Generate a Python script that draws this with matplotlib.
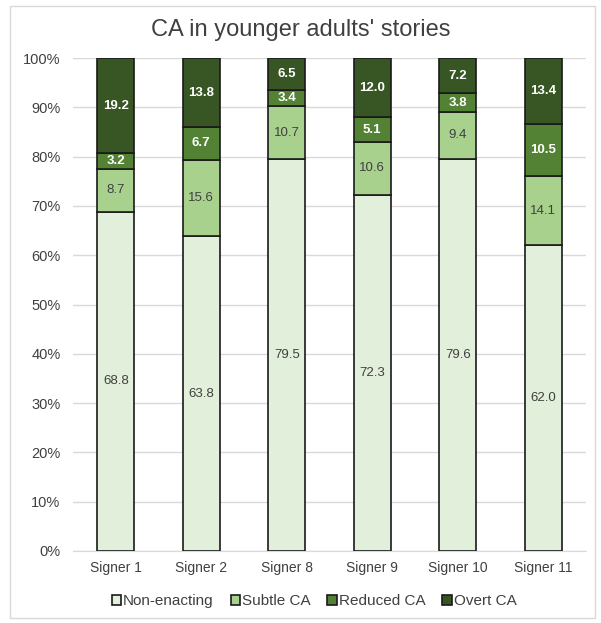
import matplotlib
matplotlib.use("Agg")
import matplotlib.pyplot as plt
from matplotlib.patches import Rectangle
import numpy as np

categories = ["Signer 1", "Signer 2", "Signer 8", "Signer 9", "Signer 10", "Signer 11"]
non_enacting = [68.8, 63.8, 79.5, 72.3, 79.6, 62.0]
subtle_ca = [8.7, 15.6, 10.7, 10.6, 9.4, 14.1]
reduced_ca = [3.2, 6.7, 3.4, 5.1, 3.8, 10.5]
overt_ca = [19.2, 13.8, 6.5, 12.0, 7.2, 13.4]

series = [
    ("Non-enacting", non_enacting, "#e2efda", "#404040"),
    ("Subtle CA", subtle_ca, "#a9d18e", "#404040"),
    ("Reduced CA", reduced_ca, "#548235", "white"),
    ("Overt CA", overt_ca, "#375623", "white"),
]

plt.rcParams['font.family'] = ['Liberation Sans', 'DejaVu Sans']
fig = plt.figure(figsize=(6.01, 6.23), dpi=100)
fig.patches.append(Rectangle((10/601, 5/623), 585/601, 612/623, transform=fig.transFigure,
                             fill=False, edgecolor="#d9d9d9", linewidth=1))
ax = fig.add_axes([73/601, 72/623, 513/601, 493/623])

x = np.arange(len(categories))
bottom = np.zeros(len(categories))
for name, vals, color, tcolor in series:
    vals = np.array(vals)
    ax.bar(x, vals, width=0.43, bottom=bottom, color=color, edgecolor="#1a1a1a",
           linewidth=1.2, label=name, zorder=3)
    for xi, b, v in zip(x, bottom, vals):
        ax.text(xi, b + v / 2, f"{v:.1f}", ha="center", va="center", fontsize=9.5,
                color=tcolor, fontweight="bold" if tcolor == "white" else "normal", zorder=4)
    bottom += vals

ax.set_ylim(0, 100)
ax.set_xlim(-0.5, len(categories) - 0.5)
ax.set_yticks(np.arange(0, 101, 10))
ax.set_yticklabels([f"{v}%" for v in range(0, 101, 10)], fontsize=10.5, color="#404040")
ax.set_xticks(x)
ax.set_xticklabels(categories, fontsize=10, color="#404040")
ax.tick_params(axis="y", length=0, pad=9)
ax.tick_params(axis="x", length=0, pad=7)
ax.yaxis.grid(True, color="#d9d9d9", linewidth=1, zorder=0)
for s in ["top", "right", "left"]:
    ax.spines[s].set_visible(False)
ax.spines["bottom"].set_color("#d9d9d9")

fig.text(0.5, 0.952, "CA in younger adults' stories", ha="center", va="center",
         fontsize=17, color="#404040")

ax.legend(loc="upper center", bbox_to_anchor=(0.47, -0.06), ncol=4, frameon=False,
          fontsize=11, handlelength=0.6, handleheight=0.6, handletextpad=0.15,
          columnspacing=1.1, labelcolor="#404040")

fig.savefig("out.png", dpi=100)
